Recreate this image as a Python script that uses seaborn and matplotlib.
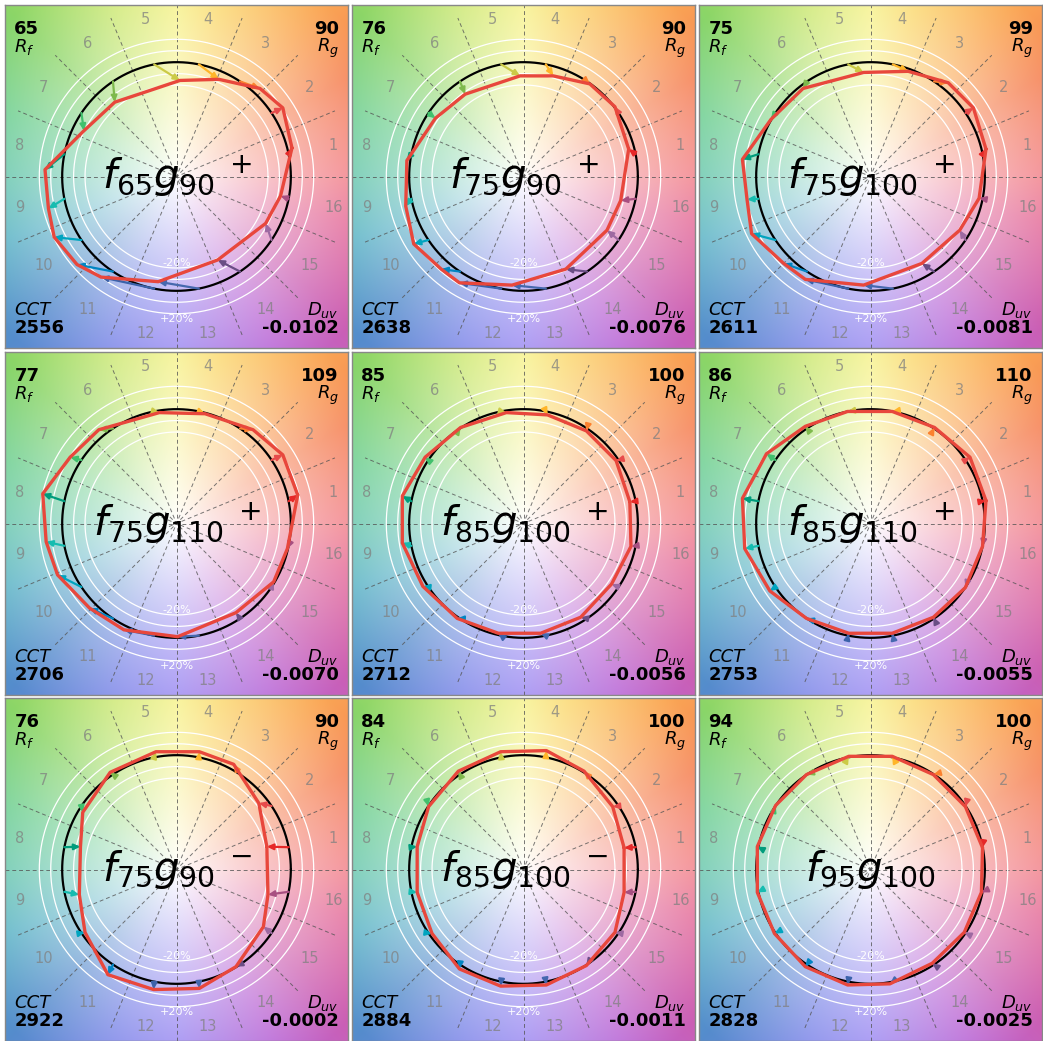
import numpy as np
import matplotlib
matplotlib.use("Agg")
import matplotlib.pyplot as plt
import seaborn as sns

sns.set_theme(style="white")
plt.rcParams["font.family"] = ["DejaVu Sans"]
plt.rcParams["mathtext.fontset"] = "dejavusans"
plt.rcParams["text.color"] = "black"

# panel metrics, row by row
rf = [65, 76, 75, 77, 85, 86, 76, 84, 94]
rg = [90, 90, 99, 109, 100, 110, 90, 100, 100]
cct = [2556, 2638, 2611, 2706, 2712, 2753, 2922, 2884, 2828]
duv = ["-0.0102", "-0.0076", "-0.0081", "-0.0070", "-0.0056", "-0.0055",
       "-0.0002", "-0.0011", "-0.0025"]
f_target = [65, 75, 75, 75, 85, 85, 75, 85, 95]
g_target = [90, 90, 100, 110, 100, 110, 90, 100, 100]
sign = ["+", "+", "+", "+", "+", "+", "-", "-", ""]

# test-source bin averages (normalised, reference = unit circle), bins 1..16
test_x = [
    [1.01, 0.93, 0.73, 0.37, 0.03, -0.54, -0.81, -1.15, -1.12, -1.07, -0.87, -0.66, -0.16, 0.36, 0.78, 0.91],
    [0.92, 0.80, 0.58, 0.26, -0.03, -0.51, -0.77, -1.02, -1.03, -0.96, -0.72, -0.56, -0.10, 0.37, 0.73, 0.85],
    [1.01, 0.90, 0.68, 0.33, -0.06, -0.59, -0.87, -1.12, -1.08, -1.04, -0.76, -0.57, -0.06, 0.45, 0.78, 0.95],
    [1.06, 0.93, 0.67, 0.25, -0.15, -0.68, -0.93, -1.17, -1.14, -1.04, -0.76, -0.46, 0.01, 0.52, 0.85, 0.97],
    [0.93, 0.81, 0.55, 0.21, -0.15, -0.55, -0.86, -1.06, -1.06, -0.88, -0.58, -0.22, 0.15, 0.50, 0.77, 0.94],
    [1.01, 0.87, 0.56, 0.19, -0.20, -0.57, -0.91, -1.12, -1.10, -0.88, -0.56, -0.19, 0.19, 0.55, 0.83, 0.98],
    [0.79, 0.72, 0.50, 0.20, -0.18, -0.58, -0.82, -0.84, -0.85, -0.80, -0.60, -0.20, 0.20, 0.52, 0.76, 0.80],
    [0.88, 0.78, 0.53, 0.20, -0.20, -0.57, -0.83, -0.93, -0.93, -0.80, -0.56, -0.20, 0.20, 0.55, 0.80, 0.88],
    [0.98, 0.83, 0.55, 0.19, -0.19, -0.56, -0.83, -0.99, -0.99, -0.84, -0.57, -0.20, 0.17, 0.54, 0.82, 0.97],
]
test_y = [
    [0.25, 0.60, 0.77, 0.85, 0.84, 0.65, 0.40, 0.06, -0.28, -0.53, -0.77, -0.88, -0.92, -0.73, -0.41, -0.17],
    [0.24, 0.61, 0.81, 0.88, 0.88, 0.72, 0.51, 0.14, -0.26, -0.59, -0.81, -0.93, -0.95, -0.81, -0.47, -0.21],
    [0.24, 0.60, 0.82, 0.92, 0.91, 0.77, 0.50, 0.15, -0.20, -0.50, -0.76, -0.90, -0.95, -0.76, -0.47, -0.19],
    [0.25, 0.60, 0.82, 0.96, 0.97, 0.82, 0.58, 0.26, -0.16, -0.45, -0.74, -0.93, -0.99, -0.78, -0.51, -0.22],
    [0.19, 0.55, 0.81, 0.95, 0.97, 0.84, 0.58, 0.24, -0.17, -0.55, -0.83, -0.96, -0.96, -0.82, -0.53, -0.20],
    [0.20, 0.58, 0.84, 0.98, 0.98, 0.85, 0.61, 0.22, -0.22, -0.59, -0.83, -0.96, -0.96, -0.82, -0.56, -0.20],
    [0.20, 0.58, 0.92, 1.03, 1.03, 0.85, 0.50, 0.20, -0.22, -0.55, -0.92, -1.05, -1.04, -0.85, -0.50, -0.22],
    [0.19, 0.55, 0.86, 1.04, 1.03, 0.86, 0.55, 0.20, -0.20, -0.56, -0.87, -1.02, -1.01, -0.84, -0.55, -0.20],
    [0.19, 0.55, 0.83, 0.99, 0.99, 0.83, 0.56, 0.20, -0.20, -0.56, -0.85, -1.01, -1.00, -0.82, -0.55, -0.20],
]

bin_colors = ["#e62828", "#e74b4b", "#fb812e", "#ffb529", "#cbca46", "#7eb94c",
              "#41c06d", "#009c7c", "#16bcb0", "#00a4bf", "#0085c3", "#3b62aa",
              "#4568ae", "#6a4e85", "#9d69a1", "#a74f81"]

# background hue wheel
hue_deg = [0, 30, 50, 75, 90, 110, 135, 160, 180, 200, 225, 250, 270, 300, 320, 345, 360]
hue_rgb = [(240, 110, 120), (245, 120, 70), (250, 160, 70), (250, 210, 90),
           (245, 240, 120), (200, 230, 100), (130, 210, 90), (90, 200, 130),
           (80, 190, 160), (70, 170, 190), (70, 130, 200), (110, 120, 230),
           (140, 120, 240), (180, 90, 210), (200, 80, 170), (225, 90, 140),
           (240, 110, 120)]
g = np.linspace(-1.5, 1.5, 500)
gx, gy = np.meshgrid(g, g)
ang = np.degrees(np.arctan2(gy, gx)) % 360
rad = np.hypot(gx, gy)
rgb = np.stack([np.interp(ang, hue_deg, [c[k] for c in hue_rgb]) for k in range(3)], -1) / 255
w = np.clip(rad / 2.0, 0, 1) ** 0.9 * 0.92
bg = 1 - w[..., None] * (1 - rgb)

bin_ang = np.radians(np.arange(16) * 22.5 + 11.25)
ref_x = np.cos(bin_ang)
ref_y = np.sin(bin_ang)
circ = np.linspace(0, 2 * np.pi, 300)

fig = plt.figure(figsize=(10.43, 10.41), dpi=100)
W, H = 1043, 1041
size = 343
cols_px = [5, 352, 699]
rows_px = [5, 352, 698]

for i in range(9):
    r, c = divmod(i, 3)
    ax = fig.add_axes([cols_px[c] / W, 1 - (rows_px[r] + size) / H, size / W, size / H])
    ax.imshow(bg, extent=[-1.5, 1.5, -1.5, 1.5], origin="lower", zorder=0, interpolation="bilinear")

    for a in np.radians(np.arange(0, 180, 22.5)):
        ax.plot([-1.5 * np.cos(a), 1.5 * np.cos(a)], [-1.5 * np.sin(a), 1.5 * np.sin(a)],
                ls=(0, (4, 3)), color="#555555", lw=0.7, alpha=0.8, zorder=1)
    for rr in [0.8, 0.9, 1.1, 1.2]:
        ax.plot(rr * np.cos(circ), rr * np.sin(circ), color="white", lw=0.9, zorder=1)
    ax.plot(np.cos(circ), np.sin(circ), color="black", lw=1.6, zorder=3)

    ax.text(0, -0.8, "-20%", color="white", fontsize=8, ha="center", va="bottom", zorder=2)
    ax.text(0, -1.2, "+20%", color="white", fontsize=8, ha="center", va="top", zorder=2)

    for k in range(16):
        ax.text(1.4 * np.cos(bin_ang[k]), 1.4 * np.sin(bin_ang[k]), str(k + 1),
                color="#808080", alpha=0.75, fontsize=10.5, ha="center", va="center", zorder=2)
        ax.annotate("", xy=(test_x[i][k], test_y[i][k]), xytext=(ref_x[k], ref_y[k]),
                    arrowprops=dict(arrowstyle="-|>,head_length=0.3,head_width=0.14",
                                    color=bin_colors[k], lw=1.6, shrinkA=0, shrinkB=0),
                    zorder=4)

    px = test_x[i] + [test_x[i][0]]
    py = test_y[i] + [test_y[i][0]]
    sns.lineplot(x=px, y=py, sort=False, estimator=None, color="#e8473c", lw=2.4, ax=ax, zorder=5)

    sup = "" if sign[i] == "" else r"\ {}^{%s}" % sign[i]
    ax.text(0, 0, r"$f_{%d}g_{%d}%s$" % (f_target[i], g_target[i], sup),
            fontsize=29, ha="center", va="center", zorder=6)

    ax.text(0.027, 0.916, str(rf[i]), transform=ax.transAxes, fontsize=13, fontweight="bold",
            ha="left", va="baseline")
    ax.text(0.027, 0.862, r"$R_f$", transform=ax.transAxes, fontsize=13, ha="left", va="baseline")
    ax.text(0.973, 0.916, str(rg[i]), transform=ax.transAxes, fontsize=13, fontweight="bold",
            ha="right", va="baseline")
    ax.text(0.973, 0.862, r"$R_g$", transform=ax.transAxes, fontsize=13, ha="right", va="baseline")
    ax.text(0.027, 0.096, "CCT", transform=ax.transAxes, fontsize=13, style="italic",
            ha="left", va="baseline")
    ax.text(0.027, 0.044, str(cct[i]), transform=ax.transAxes, fontsize=13, fontweight="bold",
            ha="left", va="baseline")
    ax.text(0.973, 0.096, r"$D_{uv}$", transform=ax.transAxes, fontsize=13, ha="right", va="baseline")
    ax.text(0.973, 0.044, duv[i], transform=ax.transAxes, fontsize=13, fontweight="bold",
            ha="right", va="baseline")

    ax.set_xlim(-1.5, 1.5)
    ax.set_ylim(-1.5, 1.5)
    ax.set_aspect("auto")
    ax.set_xticks([])
    ax.set_yticks([])
    ax.set_xlabel("")
    ax.set_ylabel("")
    for s in ax.spines.values():
        s.set_color("#888888")
        s.set_linewidth(1.0)

fig.savefig("out.png", dpi=100)
